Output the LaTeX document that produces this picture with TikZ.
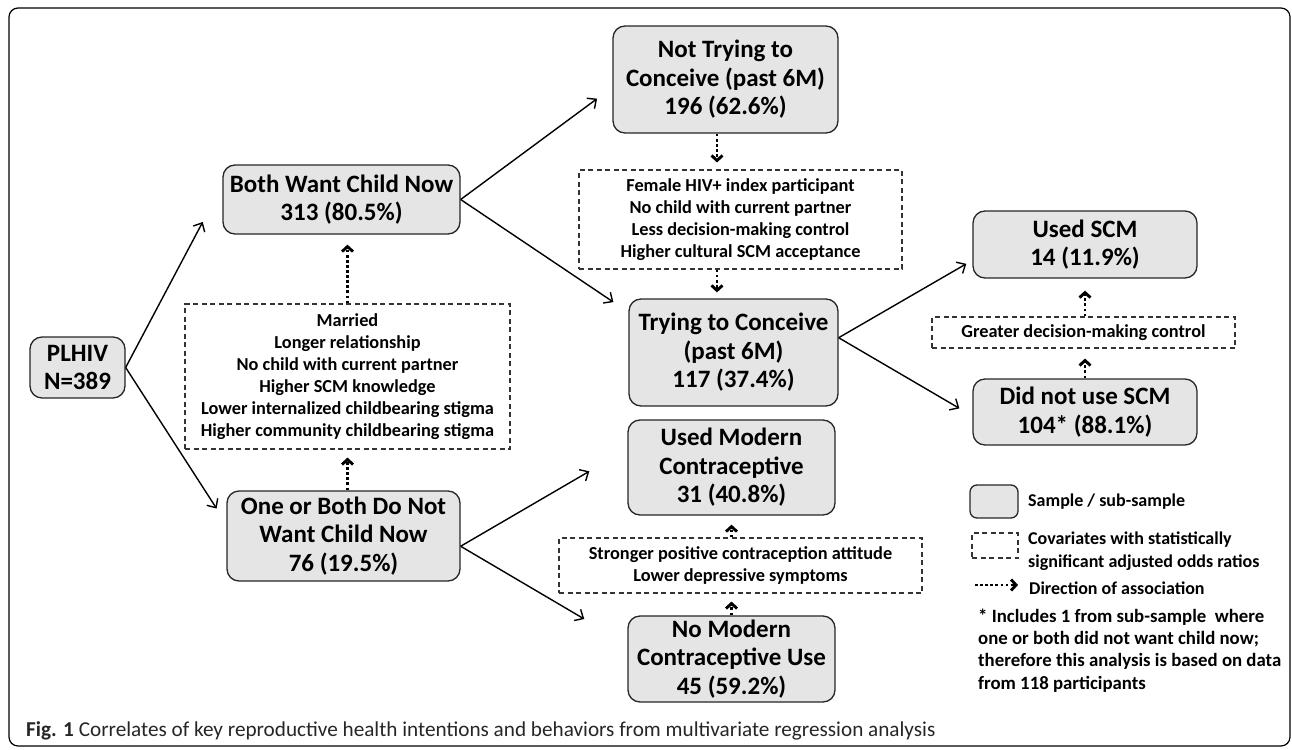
\documentclass[tikz,border=0pt]{standalone}
\usepackage{fontspec}
\setmainfont{Carlito}
\usepackage{tikz}
\usetikzlibrary{arrows.meta,positioning}

\begin{document}
\begin{tikzpicture}
    [
      x=1pt, y=-1pt,
      sample/.style={draw=black!85,fill=black!10,line width=1.3pt,rounded corners=12pt,
        align=center,inner sep=0pt,font=\fontsize{25}{28.5}\selectfont\bfseries},
      covar/.style={draw=black!80,line width=1.1pt,dash pattern=on 5pt off 3.5pt,
        align=center,inner sep=0pt,font=\fontsize{18.3}{22}\selectfont\bfseries},
      flow/.style={-{Straight Barb[length=7pt,width=13pt]},line width=1.4pt},
      assoc/.style={-{Straight Barb[length=5pt,width=11pt]},line width=2.9pt,
        dash pattern=on 2.8pt off 2.3pt},
      keytext/.style={anchor=base west,align=left,inner sep=0pt,
        font=\fontsize{18}{22.3}\selectfont\bfseries},
    ]

    \useasboundingbox (0,0) rectangle (1292,749);
    \draw [line width=1.2pt,rounded corners=9pt] (9,8) rectangle (1290,746);

    \node (plhiv) [sample, minimum width=95pt, minimum height=61pt] at (77.5,367.5) {PLHIV\\N=389};
    \node (want-both) [sample, minimum width=237pt, minimum height=69pt] at (341.5,199.5) {Both Want Child Now\\313 (80.5\%)};
    \node (want-not) [sample, minimum width=233pt, minimum height=90pt] at (343.5,536) {One or Both Do Not\\Want Child Now\\76 (19.5\%)};
    \node (conceive-not) [sample, minimum width=225pt, minimum height=107pt] at (725.5,79.5) {Not Trying to\\Conceive (past 6M)\\196 (62.6\%)};
    \node (conceive-yes) [sample, minimum width=209pt, minimum height=107pt] at (733.5,352.5) {Trying to Conceive\\(past 6M)\\117 (37.4\%)};
    \node (contra-used) [sample, minimum width=207pt, minimum height=95pt] at (731.5,467.5) {Used Modern\\Contraceptive\\31 (40.8\%)};
    \node (contra-not) [sample, minimum width=207pt, minimum height=86pt] at (731.5,659) {No Modern\\Contraceptive Use\\45 (59.2\%)};
    \node (scm-used) [sample, minimum width=224pt, minimum height=67pt] at (1085,244.5) {Used SCM\\14 (11.9\%)};
    \node (scm-not) [sample, minimum width=224pt, minimum height=66pt] at (1085,412) {Did not use SCM\\104* (88.1\%)};

    \node (cov-want) [covar, minimum width=325pt, minimum height=145pt] at (347.5,376.5)
      {Married\\Longer relationship\\No child with current partner\\Higher SCM knowledge\\Lower internalized childbearing stigma\\Higher community childbearing stigma};
    \node (cov-conceive) [covar, minimum width=323pt, minimum height=99pt] at (740.5,219.5)
      {Female HIV+ index participant\\No child with current partner\\Less decision-making control\\Higher cultural SCM acceptance};
    \node (cov-scm) [covar, minimum width=303pt, minimum height=31pt] at (1083.5,332.5) {Greater decision-making control};
    \node (cov-contra) [covar, minimum width=363pt, minimum height=55pt] at (740.5,565.5)
      {Stronger positive contraception attitude\\Lower depressive symptoms};

    \coordinate (col-conceive) at (717,0);

    \path
    (plhiv.east) edge [flow, shorten >=42pt] (want-both.173)
    (plhiv.east) edge [flow, shorten >=18pt] (want-not.174)

    (want-both.east) edge [flow, shorten >=19pt] (conceive-not.184)
    (want-both.east) edge [flow, shorten >=18pt] (conceive-yes.159)

    (conceive-yes.8) edge [flow, shorten >=7pt] (scm-used.188)
    (conceive-yes.8) edge [flow, shorten >=15pt] (scm-not.182)

    (want-not.-5) edge [flow, shorten >=44pt] (contra-used.170)
    (want-not.-5) edge [flow, shorten >=50pt] (contra-not.172)
    ;

    \path
    (cov-want.north) edge [assoc, shorten >=10pt] (cov-want.north |- want-both.south)
    (cov-want.south |- want-not.north) edge [assoc, shorten >=8pt] (cov-want.south)

    (col-conceive |- conceive-not.south) edge [assoc, shorten >=7pt] (col-conceive |- cov-conceive.north)
    (col-conceive |- cov-conceive.south) edge [assoc, shorten >=6pt] (col-conceive |- conceive-yes.north)

    (scm-not.north) edge [assoc, shorten >=10pt] (scm-not.north |- cov-scm.south)
    (scm-used.south |- cov-scm.north) edge [assoc, shorten >=12pt] (scm-used.south)

    (contra-not.north) edge [assoc, shorten >=8pt] (contra-not.north |- cov-contra.south)
    (contra-used.south |- cov-contra.north) edge [assoc, shorten >=9pt] (contra-used.south)
    ;

    % key
    \node (key-sample) [sample, minimum width=48pt, minimum height=33pt, rounded corners=7pt] at (994,501.5) {};
    \node (key-sample-text) [keytext] at (1028,506) {Sample / sub-sample};
    \node (key-covar) [covar, minimum width=46pt, minimum height=25pt] at (995,545.5) {};
    \node (key-covar-text) [keytext] at (1028,567) {Covariates with statistically\\significant adjusted odds ratios};
    \coordinate (key-from) at (975,585);
    \coordinate (key-to) at (1018,585);
    \draw [assoc] (key-from) -- (key-to);
    \node (key-assoc-text) [keytext] at (1029,594) {Direction of association};
    \node (key-note) [keytext, font=\fontsize{18.8}{22.3}\selectfont\bfseries] at (978,689)
      {* Includes 1 from sub-sample\ \ where\\one or both did not want child now;\\therefore this analysis is based on data\\from 118 participants};

    \node (caption) [anchor=base west, inner sep=0pt, font=\fontsize{21.2}{25}\selectfont, text=black!85] at (26,736)
      {\textbf{Fig. 1} Correlates of key reproductive health intentions and behaviors from multivariate regression analysis};

  \end{tikzpicture}
\end{document}
